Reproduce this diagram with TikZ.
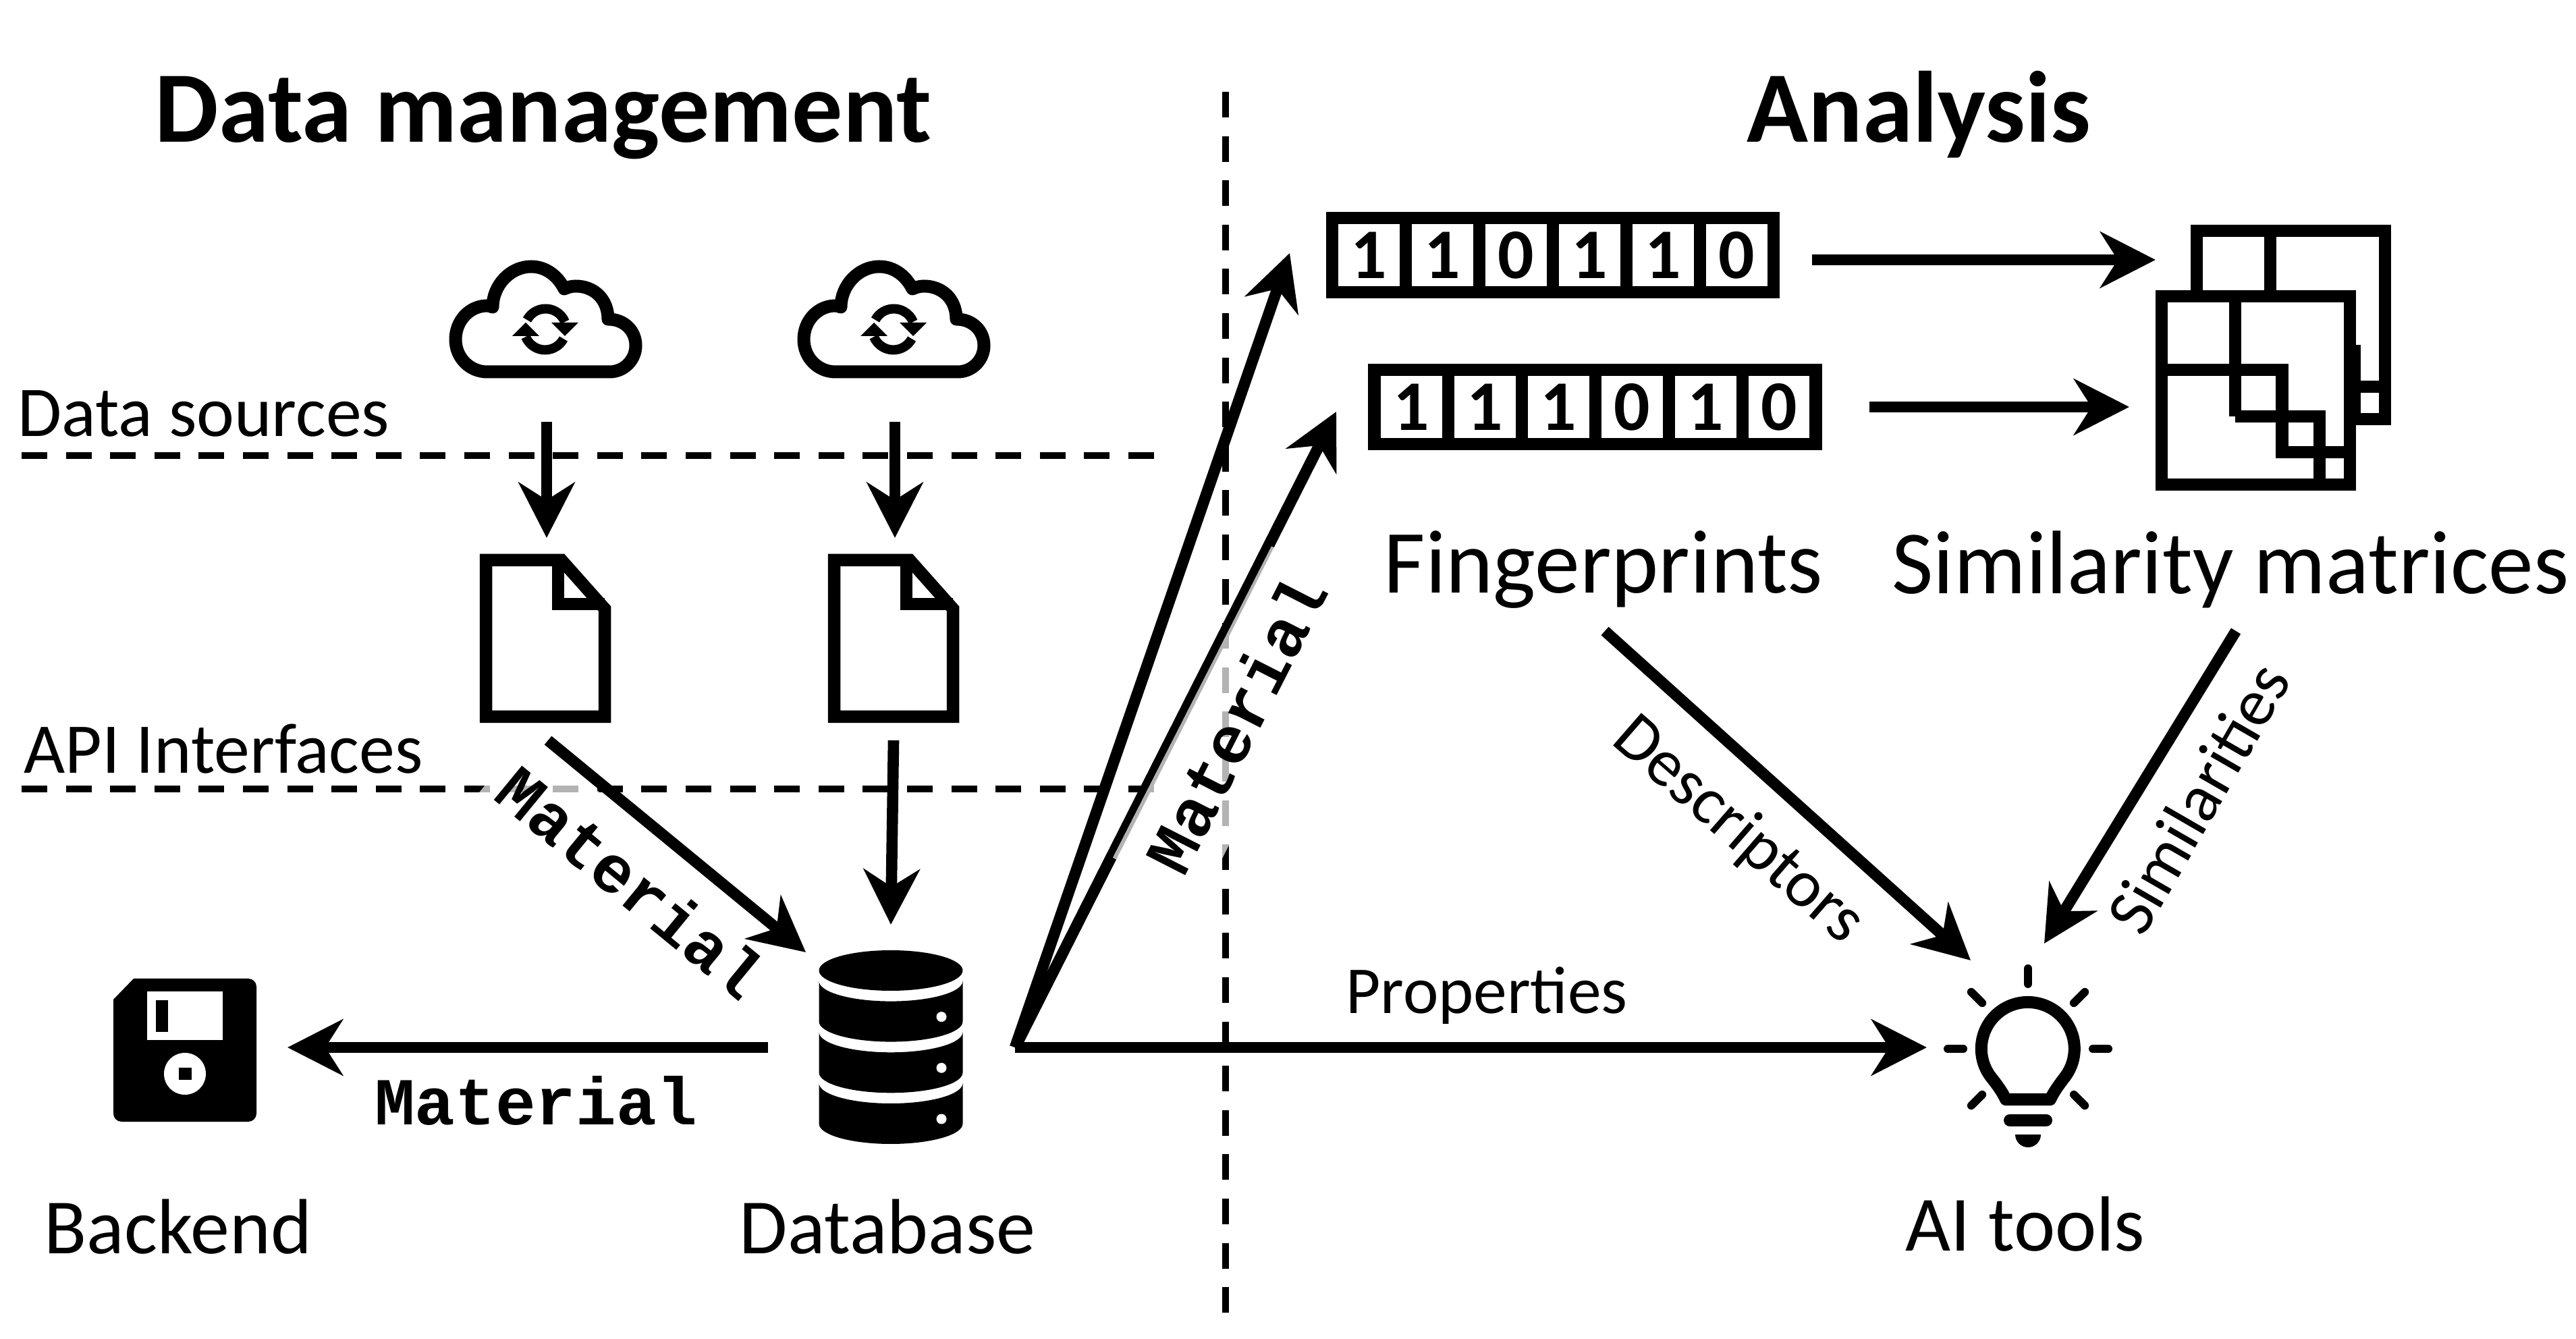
\documentclass[tikz,border=0pt]{standalone}
\usepackage{fontspec}
\setmainfont{Carlito}
\newfontfamily\codefont{Liberation Mono}
\usetikzlibrary{arrows.meta}
\tikzset{%
  flow/.style={line width=1.66mm, -{Stealth[length=8.2mm, width=8.3mm, inset=2.6mm]}},
  divider/.style={line width=1mm, dash pattern=on 3.8mm off 2.76mm},
  heading/.style={font=\fontsize{42.7}{50}\selectfont\bfseries, inner sep=0},
  caption/.style={font=\fontsize{38}{44}\selectfont, inner sep=0},
  iconname/.style={font=\fontsize{33}{38}\selectfont, inner sep=0},
  rowname/.style={font=\fontsize{30.1}{35}\selectfont, inner sep=0},
  note/.style={font=\fontsize{28.3}{32}\selectfont, inner sep=0},
  material/.style={font=\fontsize{28.3}{32}\selectfont\codefont\bfseries, fill=white, fill opacity=0.7, text opacity=1,
                   inner sep=0, minimum width=5.18cm, minimum height=1.45cm},
  cloudicon/.pic={
    \draw[line width=1.9mm, line join=round] (-0.86,-0.78) -- (0.95,-0.78)
      .. controls (1.17,-0.78) and (1.34,-0.60) .. (1.34,-0.39)
      .. controls (1.34,-0.17) and (1.17,0) .. (0.93,0)
      .. controls (0.93,0.30) and (0.72,0.49) .. (0.45,0.49)
      .. controls (0.38,0.49) and (0.33,0.47) .. (0.28,0.45)
      .. controls (0.18,0.65) and (0,0.78) .. (-0.21,0.78)
      .. controls (-0.52,0.78) and (-0.78,0.50) .. (-0.78,0.18)
      .. controls (-0.81,0.19) and (-0.84,0.20) .. (-0.86,0.20)
      .. controls (-1.12,0.20) and (-1.33,-0.02) .. (-1.33,-0.30)
      .. controls (-1.33,-0.57) and (-1.12,-0.78) .. (-0.86,-0.78) -- cycle;
    % the two small turning arrows
    \foreach \turn in {0,180}{
      \begin{scope}[shift={(0,-0.15)}, rotate=\turn]
        \draw[line width=1.4mm] (-0.27,0.14) arc (152:22:0.31);
        \fill (0.09,0.10) -- (0.49,0.10) -- (0.29,-0.10) -- cycle;
      \end{scope}
    }
  },
  docicon/.pic={
    \draw[line width=1.85mm, miter limit=4] (-0.88,-1.16) -- (-0.88,1.16) -- (0.24,1.16) -- (0.88,0.44) -- (0.88,-1.16) -- cycle;
    \draw[line width=1.85mm] (0.19,1.16) -- (0.19,0.51) -- (0.88,0.51);
  },
  tapeicon/.pic={
    \draw[line width=1.85mm] (-3.27,-0.55) rectangle (3.27,0.55);
    \foreach \n/\bit in {#1}{
      \draw[line width=1.8mm] ({-3.27+1.09*\n},-0.55) -- ({-3.27+1.09*\n},0.55);
      \node[font=\fontsize{30}{34}\selectfont\bfseries, inner sep=0] at ({-3.27+1.09*\n-0.545},0) {\bit};
    }
  },
  matrixicon/.pic={
    \draw[line width=1.85mm, fill=white] (-1.395,-1.395) rectangle (1.395,1.395);
    \draw[line width=1.85mm] (-0.305,1.395) -- (-0.305,-0.385);
    \draw[line width=1.85mm] (-1.395,0.305) -- (0.39,0.305) -- (0.39,-0.915) -- (1.395,-0.915);
    \draw[line width=1.85mm] (-0.305,-0.385) -- (0.945,-0.385) -- (0.945,-1.395);
  },
  bulbicon/.pic={
    \draw[line width=1.8mm, line join=round] (-0.33,-0.75)
      .. controls (-0.39,-0.62) and (-0.47,-0.52) .. (-0.56,-0.405) arc (216:-36:0.69)
      .. controls (0.47,-0.52) and (0.39,-0.62) .. (0.33,-0.75) -- cycle;
    \draw[line width=1.8mm, line cap=round] (-0.27,-1.06) -- (0.27,-1.06);
    \fill (-0.19,-1.27) arc (180:360:0.19) -- cycle;
    \foreach \ray in {0,45,90,135,180,225,315}
      \draw[line width=1.2mm, line cap=round] (\ray:0.96) -- (\ray:1.19);
  },
}

\begin{document}
\begin{tikzpicture}
    \useasboundingbox (0,0) rectangle (38.17,19.83);

    %icon places
    \coordinate (cloudA) at (8.08,15.10);
    \coordinate (cloudB) at (13.24,15.10);
    \coordinate (docA) at (8.08,10.37);
    \coordinate (docB) at (13.24,10.37);
    \coordinate (tapeA) at (23.01,16.05);
    \coordinate (tapeB) at (23.635,13.80);
    \coordinate (matrixA) at (33.945,15.015);
    \coordinate (matrixB) at (33.425,14.045);
    \coordinate (bulb) at (30.05,4.29);
    \coordinate (dbTop) at (13.20,5.45);
    \coordinate (hub) at (15.04,4.31);

    %arrow ends
    \coordinate (cloudAout) at (8.10,13.58);
    \coordinate (docAin) at (8.10,11.86);
    \coordinate (cloudBout) at (13.26,13.58);
    \coordinate (docBin) at (13.26,11.86);
    \coordinate (docAout) at (8.12,8.86);
    \coordinate (dbInA) at (11.94,5.72);
    \coordinate (docBout) at (13.24,8.86);
    \coordinate (dbInB) at (13.20,6.13);
    \coordinate (dbOut) at (11.38,4.31);
    \coordinate (backendIn) at (4.26,4.31);
    \coordinate (tapeAin) at (19.11,16.08);
    \coordinate (tapeBin) at (19.80,13.73);
    \coordinate (tapeAout) at (26.85,15.98);
    \coordinate (matrixAin) at (31.94,15.98);
    \coordinate (tapeBout) at (27.70,13.80);
    \coordinate (matrixBin) at (31.55,13.80);
    \coordinate (bulbIn) at (28.55,4.31);
    \coordinate (printsOut) at (23.78,10.48);
    \coordinate (bulbInA) at (29.20,5.60);
    \coordinate (simsOut) at (33.13,10.48);
    \coordinate (bulbInB) at (30.29,5.85);

    %dashed dividers
    \draw[divider] (18.16,18.47) -- (18.16,0.36);
    \draw[divider] (0.32,13.08) -- (17.11,13.08);
    \draw[divider] (0.32,8.14) -- (17.11,8.14);

    %arrows
    \draw[flow] (cloudAout) -- (docAin);
    \draw[flow] (cloudBout) -- (docBin);
    \draw[flow] (docBout) -- (dbInB);
    \draw[flow] (hub) -- (tapeAin);
    \draw[flow] (hub) -- (tapeBin);
    \draw[flow] (hub) -- (bulbIn);
    \draw[flow] (tapeAout) -- (matrixAin);
    \draw[flow] (tapeBout) -- (matrixBin);
    \draw[flow] (printsOut) -- (bulbInA);
    \draw[flow] (simsOut) -- (bulbInB);

    %icons
    \pic at (cloudA) {cloudicon};
    \pic at (cloudB) {cloudicon};
    \pic at (docA) {docicon};
    \pic at (docB) {docicon};
    \pic at (tapeA) {tapeicon={1/1,2/1,3/0,4/1,5/1,6/0}};
    \pic at (tapeB) {tapeicon={1/1,2/1,3/1,4/0,5/1,6/0}};
    \pic at (matrixA) {matrixicon};
    \pic at (matrixB) {matrixicon};
    \pic at (bulb) {bulbicon};

    %database
    \foreach \lift in {0,0.757,1.514}{
      \fill ([yshift=\lift cm]dbTop |- 0,3.18) ++(-1.065,0) arc (180:360:1.065 and 0.30)
        -- ++(0,0.60) arc (0:-180:1.065 and 0.30) -- cycle;
      \fill[white] ([yshift=\lift cm]13.95,3.25) circle (0.075);
    }
    \fill (dbTop) ellipse (1.065 and 0.30);

    %backend disk
    \fill (1.68,5.02) -- (1.98,5.33) [rounded corners=1.2mm] -- (3.80,5.33) -- (3.80,3.21) -- (1.68,3.21) -- (1.68,4) [sharp corners] -- cycle;
    \fill[white] (2.18,4.42) rectangle (3.30,5.14);
    \fill (2.31,4.54) rectangle (2.49,5.01);
    \fill[white] (2.74,3.92) circle (0.31);
    \fill (2.65,3.83) rectangle (2.84,4.01);

    %labels
    \node[heading] (titleLeft) at (8.05,18.08) {Data management};
    \node[heading] (titleRight) at (28.43,18.13) {Analysis};
    \node[rowname] (sources) at (3.02,13.70) {Data sources};
    \node[rowname] (api) at (3.31,8.73) {API Interfaces};
    \node[caption] (prints) at (23.76,11.39) {Fingerprints};
    \node[caption] (sims) at (33.05,11.39) {Similarity matrices};
    \node[iconname] (backend) at (2.64,1.65) {Backend};
    \node[iconname] (database) at (13.15,1.65) {Database};
    \node[iconname] (tools) at (30.01,1.69) {AI tools};
    \node[note] (properties) at (22.03,5.08) {Properties};
    \node[note, rotate=-41] (descriptors) at (25.75,7.52) {Descriptors};
    \node[note, rotate=60] (similarities) at (32.57,8.01) {Similarities};
    \node[material, rotate=-39.4] (matLeft) at (9.36,6.76) {Material};
    \node[material] (matBottom) at (7.94,3.52) {Material};
    \node[material, rotate=63] (matRight) at (18.31,9.10) {Material};

    %arrows over the labels
    \draw[flow] (docAout) -- (dbInA);
    \draw[flow] (dbOut) -- (backendIn);
\end{tikzpicture}
\end{document}
